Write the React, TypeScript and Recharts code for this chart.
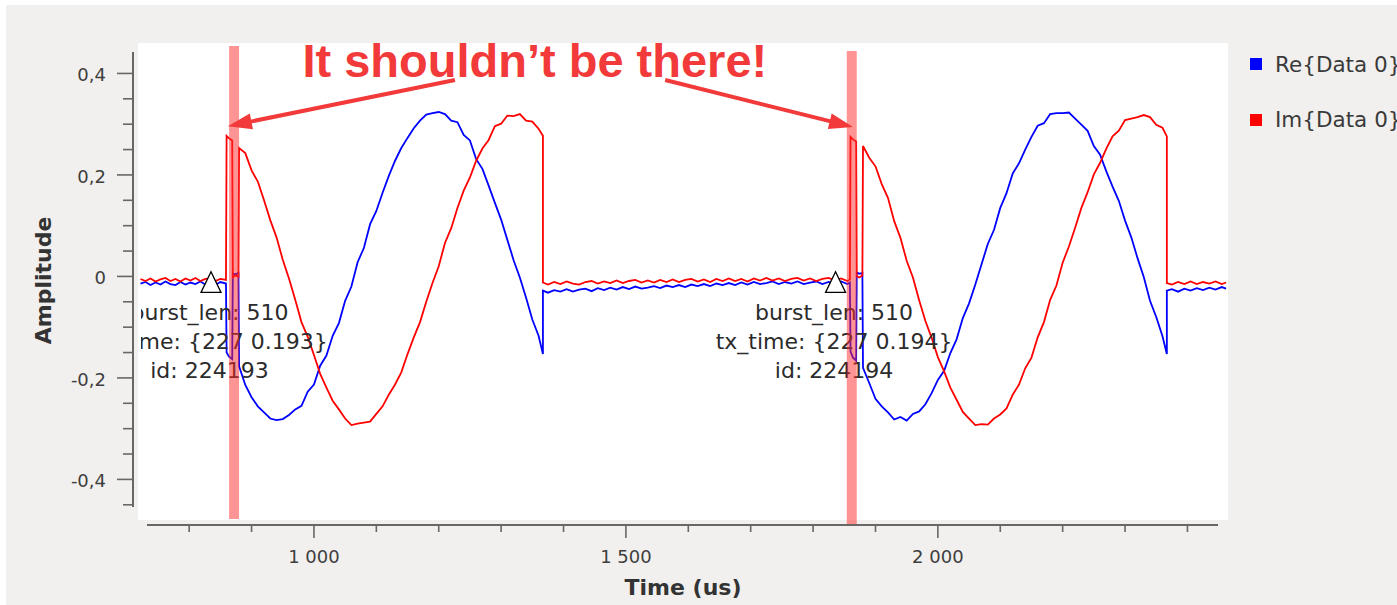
import React from 'react';
import {
  LineChart,
  Line,
  XAxis,
  YAxis,
  CartesianGrid,
  ReferenceArea,
  ReferenceLine,
  ReferenceDot,
} from 'recharts';

// ---------- DATA (time in us, amplitude) ----------
const T_IDLE_A = [722, 730, 738, 746, 754, 762, 770, 778, 786, 794, 802, 810, 818, 826, 834, 842, 850, 859];
const RE_IDLE_A = [-0.014, -0.011, -0.017, -0.012, -0.016, -0.010, -0.015, -0.017, -0.011, -0.016, -0.012, -0.015, -0.010, -0.016, -0.012, -0.017, -0.011, -0.014];
const IM_IDLE_A = [-0.005, -0.009, -0.004, -0.010, -0.006, -0.003, -0.009, -0.005, -0.010, -0.004, -0.008, -0.003, -0.009, -0.005, -0.004, -0.009, -0.005, -0.007];

const T_BURST_1 = [860, 864, 869, 870, 874, 879, 880, 890, 900, 910, 920, 930, 940, 950, 960, 970, 980, 990, 1000, 1010, 1020, 1030, 1040, 1050, 1060, 1070, 1080, 1090, 1100, 1110, 1120, 1130, 1140, 1150, 1160, 1170, 1180, 1190, 1200, 1210, 1220, 1230, 1240, 1250, 1260, 1270, 1280, 1290, 1300, 1310, 1320, 1330, 1340, 1350, 1360, 1367];
const RE_BURST_1 = [-0.150, -0.158, -0.163, 0.006, 0.004, 0.007,
  -0.177, -0.214, -0.238, -0.256, -0.268, -0.280, -0.283, -0.281, -0.273, -0.262,
  -0.255, -0.227, -0.213, -0.176, -0.156, -0.117, -0.092, -0.048, -0.020, 0.028,
  0.056, 0.103, 0.129, 0.165, 0.198, 0.228, 0.253, 0.273, 0.292, 0.307,
  0.319, 0.322, 0.324, 0.320, 0.307, 0.304, 0.279, 0.268, 0.231, 0.212,
  0.179, 0.145, 0.112, 0.072, 0.032, -0.002, -0.042, -0.085, -0.117, -0.153];
const IM_BURST_1 = [0.277, 0.272, 0.268, -0.002, 0.002, -0.001,
  0.253, 0.243, 0.209, 0.187, 0.150, 0.111, 0.077, 0.033, -0.004, -0.046,
  -0.090, -0.119, -0.155, -0.192, -0.219, -0.245, -0.262, -0.280, -0.293, -0.290,
  -0.288, -0.286, -0.271, -0.256, -0.233, -0.213, -0.189, -0.153, -0.120, -0.090,
  -0.050, -0.013, 0.020, 0.066, 0.095, 0.135, 0.169, 0.195, 0.228, 0.252,
  0.269, 0.296, 0.301, 0.317, 0.316, 0.320, 0.307, 0.305, 0.291, 0.277];

const T_IDLE_B = [1367, 1375, 1385, 1395, 1405, 1415, 1425, 1435, 1445, 1455, 1465, 1475, 1485, 1495, 1505, 1515, 1525, 1535, 1545, 1555, 1565, 1575, 1585, 1595, 1605, 1615, 1625, 1635, 1645, 1655, 1665, 1675, 1685, 1695, 1705, 1715, 1725, 1735, 1745, 1755, 1765, 1775, 1785, 1795, 1805, 1815, 1825, 1835, 1845, 1855, 1859];
const RE_IDLE_B = [-0.028, -0.032, -0.027, -0.030, -0.025, -0.030, -0.026, -0.024, -0.029, -0.023,
  -0.027, -0.022, -0.026, -0.021, -0.025, -0.020, -0.024, -0.022, -0.019, -0.023,
  -0.018, -0.021, -0.017, -0.021, -0.016, -0.019, -0.015, -0.019, -0.014, -0.017,
  -0.013, -0.017, -0.012, -0.016, -0.011, -0.015, -0.013, -0.010, -0.015, -0.011,
  -0.014, -0.010, -0.015, -0.012, -0.010, -0.015, -0.011, -0.014, -0.010, -0.015, -0.012];
const IM_IDLE_B = [-0.012, -0.016, -0.011, -0.015, -0.010, -0.014, -0.016, -0.011, -0.009, -0.014,
  -0.010, -0.013, -0.008, -0.013, -0.009, -0.007, -0.012, -0.008, -0.012, -0.007,
  -0.011, -0.006, -0.011, -0.007, -0.005, -0.010, -0.006, -0.011, -0.005, -0.009,
  -0.004, -0.009, -0.005, -0.010, -0.004, -0.008, -0.003, -0.008, -0.004, -0.009,
  -0.005, -0.003, -0.008, -0.004, -0.009, -0.005, -0.003, -0.008, -0.004, -0.009, -0.006];

const T_BURST_2 = [1860, 1864, 1869, 1870, 1874, 1879, 1880, 1890, 1900, 1910, 1920, 1930, 1940, 1950, 1960, 1970, 1980, 1990, 2000, 2010, 2020, 2030, 2040, 2050, 2060, 2070, 2080, 2090, 2100, 2110, 2120, 2130, 2140, 2150, 2160, 2170, 2180, 2190, 2200, 2210, 2220, 2230, 2240, 2250, 2260, 2270, 2280, 2290, 2300, 2310, 2320, 2330, 2340, 2350, 2360, 2367];
const RE_BURST_2 = [-0.148, -0.160, -0.166, 0.008, 0.005, 0.007,
  -0.180, -0.210, -0.241, -0.256, -0.268, -0.282, -0.277, -0.284, -0.271, -0.266,
  -0.252, -0.230, -0.204, -0.186, -0.151, -0.124, -0.082, -0.053, -0.016, 0.024,
  0.064, 0.092, 0.135, 0.164, 0.203, 0.223, 0.250, 0.275, 0.297, 0.302,
  0.320, 0.322, 0.322, 0.323, 0.311, 0.299, 0.287, 0.257, 0.240, 0.207,
  0.177, 0.149, 0.110, 0.077, 0.036, -0.001, -0.048, -0.080, -0.118, -0.153];
const IM_BURST_2 = [0.275, 0.270, 0.266, 0.001, -0.002, 0.002,
  0.257, 0.234, 0.217, 0.182, 0.155, 0.109, 0.076, 0.031, -0.002, -0.047,
  -0.088, -0.121, -0.159, -0.187, -0.219, -0.243, -0.267, -0.280, -0.293, -0.291,
  -0.292, -0.280, -0.272, -0.260, -0.233, -0.213, -0.181, -0.160, -0.120, -0.090,
  -0.046, -0.018, 0.027, 0.059, 0.096, 0.135, 0.166, 0.201, 0.224, 0.252,
  0.276, 0.287, 0.308, 0.311, 0.314, 0.318, 0.314, 0.299, 0.293, 0.276];

const T_IDLE_C = [2367, 2375, 2385, 2395, 2405, 2415, 2425, 2435, 2445, 2455, 2462];
const RE_IDLE_C = [-0.028, -0.025, -0.030, -0.024, -0.028, -0.023, -0.027, -0.022, -0.026, -0.021, -0.024];
const IM_IDLE_C = [-0.013, -0.016, -0.011, -0.015, -0.010, -0.015, -0.011, -0.014, -0.010, -0.015, -0.012];

// axis ticks
const X_TICKS = [800, 900, 1000, 1100, 1200, 1300, 1400, 1500, 1600, 1700, 1800, 1900, 2000, 2100, 2200, 2300, 2400];
const X_MAJOR = [1000, 1500, 2000];
const Y_TICKS = [-0.45, -0.4, -0.35, -0.3, -0.25, -0.2, -0.15, -0.1, -0.05, 0, 0.05, 0.1, 0.15, 0.2, 0.25, 0.3, 0.35, 0.4];
const Y_MAJOR = [-0.4, -0.2, 0, 0.2, 0.4];

const SERIES = [
  { key: 're', name: 'Re{Data 0}', color: '#0000ff' },
  { key: 'im', name: 'Im{Data 0}', color: '#ff0000' },
];

// stream tags
const TAGS = [
  { t: 835, lines: ['burst_len: 510', 'tx_time: {227 0.193}', 'id: 224193'] },
  { t: 1836, lines: ['burst_len: 510', 'tx_time: {227 0.194}', 'id: 224194'] },
];

// annotations (data coordinates)
const HIGHLIGHTS = [
  { x1: 864, x2: 880, y1: -0.478, y2: 0.454 },
  { x1: 1854, x2: 1870, y1: -0.488, y2: 0.444 },
];
const ARROWS = [
  { from: { x: 1226, y: 0.387 }, to: { x: 862, y: 0.296 } },
  { from: { x: 1563, y: 0.387 }, to: { x: 1864, y: 0.2945 } },
];
const NOTE = { x: 1354, y: 0.393, text: 'It shouldn\u2019t be there!' };

// ---------- build table ----------
type Row = { t: number; re: number; im: number };
function zip(times: number[], re: number[], im: number[]): Row[] {
  const n = Math.min(times.length, re.length, im.length);
  const out: Row[] = [];
  for (let i = 0; i < n; i++) out.push({ t: times[i], re: re[i], im: im[i] });
  return out;
}
const DATA: Row[] = [
  ...zip(T_IDLE_A, RE_IDLE_A, IM_IDLE_A),
  ...zip(T_BURST_1, RE_BURST_1, IM_BURST_1),
  ...zip(T_IDLE_B, RE_IDLE_B, IM_IDLE_B),
  ...zip(T_BURST_2, RE_BURST_2, IM_BURST_2),
  ...zip(T_IDLE_C, RE_IDLE_C, IM_IDLE_C),
];

// ---------- layout / styling ----------
const CHART_W = 1397;
const CHART_H = 605;
const MARGIN = { top: 43, right: 169, bottom: 0, left: 0 };
const Y_AXIS_W = 138;
const X_AXIS_H = 85;
const PLOT_LEFT = MARGIN.left + Y_AXIS_W;

const AXIS_COLOR = '#676767';
const TICK_TEXT = '#3e3e3e';
const NOTE_COLOR = '#f23a3a';
const FONT = 'DejaVu Sans';

const fmtX = (v: number) => `${Math.floor(v / 1000)} ${String(v % 1000).padStart(3, '0')}`;
const fmtY = (v: number) => (v === 0 ? '0' : v.toFixed(1).replace('.', ','));

const XTick = (props: any) => {
  const { x, y, payload } = props;
  const v = payload.value as number;
  const major = X_MAJOR.includes(v);
  return (
    <g>
      <line x1={x} x2={x} y1={y + 5} y2={y + 5 + (major ? 13 : 7)} stroke={AXIS_COLOR} strokeWidth={1.6} />
      {major && (
        <text x={x} y={y + 43} textAnchor="middle" fontFamily={FONT} fontSize={18} fill={TICK_TEXT}>
          {fmtX(v)}
        </text>
      )}
    </g>
  );
};

const YTick = (props: any) => {
  const { x, y, payload } = props;
  const v = payload.value as number;
  const major = Y_MAJOR.includes(v);
  return (
    <g>
      <line x1={x - 5 - (major ? 16 : 10)} x2={x - 5} y1={y} y2={y} stroke={AXIS_COLOR} strokeWidth={1.6} />
      {major && (
        <text x={x - 32} y={y + 8} textAnchor="end" fontFamily={FONT} fontSize={18} fill={TICK_TEXT}>
          {fmtY(v)}
        </text>
      )}
    </g>
  );
};

const XAxisDecor = (props: any) => {
  const vb = props.viewBox;
  if (!vb) return null;
  return (
    <g>
      <line x1={vb.x + 9} x2={vb.x + vb.width - 10} y1={vb.y + 5} y2={vb.y + 5} stroke={AXIS_COLOR} strokeWidth={2} />
      <text x={vb.x + vb.width / 2} y={vb.y + 75} textAnchor="middle" fontFamily={FONT} fontWeight="bold" fontSize={22} fill="#333">
        Time (us)
      </text>
    </g>
  );
};

const YAxisDecor = (props: any) => {
  const vb = props.viewBox;
  if (!vb) return null;
  const ax = vb.x + vb.width - 5;
  const cx = vb.x + 51;
  const cy = vb.y + vb.height / 2 - 1;
  return (
    <g>
      <line x1={ax} x2={ax} y1={vb.y + 9} y2={vb.y + vb.height - 13} stroke={AXIS_COLOR} strokeWidth={2} />
      <text x={cx} y={cy} transform={`rotate(-90 ${cx} ${cy})`} textAnchor="middle" fontFamily={FONT} fontWeight="bold" fontSize={22} fill="#333">
        Amplitude
      </text>
    </g>
  );
};

const ArrowShape = (p: any) => {
  const x1 = Number(p.x1), y1 = Number(p.y1), x2 = Number(p.x2), y2 = Number(p.y2);
  const dx = x2 - x1, dy = y2 - y1;
  const len = Math.hypot(dx, dy) || 1;
  const ux = dx / len, uy = dy / len;
  const headLen = 24, headHalf = 8;
  const bx = x2 - ux * headLen, by = y2 - uy * headLen;
  const px = -uy, py = ux;
  return (
    <g>
      <line x1={x1} y1={y1} x2={bx + ux * 2} y2={by + uy * 2} stroke={NOTE_COLOR} strokeWidth={4} />
      <polygon
        points={`${x2},${y2} ${bx + px * headHalf},${by + py * headHalf} ${bx - px * headHalf},${by - py * headHalf}`}
        fill={NOTE_COLOR}
      />
    </g>
  );
};

const NoteShape = (p: any) => (
  <text x={p.cx} y={p.cy} textAnchor="middle" fontFamily="Liberation Sans" fontWeight="bold" fontSize={47} fill={NOTE_COLOR}>
    {NOTE.text}
  </text>
);

const makeTagShape = (lines: string[], idx: number) => (p: any) => {
  const { cx, cy } = p;
  const id = `tag-clip-${idx}`;
  return (
    <g>
      <defs>
        <clipPath id={id}>
          <rect x={PLOT_LEFT + 3} y={0} width={CHART_W} height={CHART_H} />
        </clipPath>
      </defs>
      <g clipPath={`url(#${id})`}>
        <polygon
          points={`${cx},${cy - 4.7} ${cx - 10},${cy + 16} ${cx + 10},${cy + 16}`}
          fill="#ffffff"
          stroke="#000000"
          strokeWidth={1.3}
        />
        {lines.map((s, i) => (
          <text key={i} x={cx - 1.5} y={cy + 44 + i * 29} textAnchor="middle" fontFamily={FONT} fontSize={22} fill="#2b2b2b">
            {s}
          </text>
        ))}
      </g>
    </g>
  );
};

export default function App() {
  return (
    <div style={{ position: 'absolute', left: 0, top: 0, width: CHART_W, height: CHART_H, background: '#ffffff', overflow: 'hidden' }}>
      <div style={{ position: 'absolute', left: 6, top: 5, right: 0, bottom: 0, background: '#f1f0ee' }} />
      <div style={{ position: 'absolute', left: 0, top: 0 }}>
        <LineChart width={CHART_W} height={CHART_H} data={DATA} margin={MARGIN}>
          <CartesianGrid horizontal={false} vertical={false} fill="#ffffff" fillOpacity={1} />
          <XAxis
            dataKey="t"
            type="number"
            domain={[718, 2465]}
            allowDataOverflow
            ticks={X_TICKS}
            interval={0}
            height={X_AXIS_H}
            tickSize={0}
            tickMargin={0}
            axisLine={false}
            tickLine={false}
            tick={XTick}
            label={XAxisDecor}
          />
          <YAxis
            type="number"
            domain={[-0.48, 0.46]}
            allowDataOverflow
            ticks={Y_TICKS}
            interval={0}
            width={Y_AXIS_W}
            tickSize={0}
            tickMargin={0}
            axisLine={false}
            tickLine={false}
            tick={YTick}
            label={YAxisDecor}
          />
          {SERIES.map((s) => (
            <Line
              key={s.key}
              dataKey={s.key}
              name={s.name}
              type="linear"
              stroke={s.color}
              strokeWidth={1.8}
              dot={false}
              activeDot={false}
              isAnimationActive={false}
            />
          ))}
          <ReferenceArea fill="none" stroke="#cbcbcb" strokeWidth={2} ifOverflow="visible" zIndex={900} />
          {TAGS.map((tg, i) => (
            <ReferenceDot key={`tag${i}`} x={tg.t} y={0} r={0} ifOverflow="visible" shape={makeTagShape(tg.lines, i)} zIndex={950} />
          ))}
          {HIGHLIGHTS.map((h, i) => (
            <ReferenceArea
              key={`hl${i}`}
              x1={h.x1}
              x2={h.x2}
              y1={h.y1}
              y2={h.y2}
              fill="#ff2a2a"
              fillOpacity={0.5}
              stroke="none"
              ifOverflow="visible"
              zIndex={1000}
            />
          ))}
          {ARROWS.map((a, i) => (
            <ReferenceLine key={`ar${i}`} segment={[a.from, a.to]} ifOverflow="visible" shape={ArrowShape} zIndex={1100} />
          ))}
          <ReferenceDot x={NOTE.x} y={NOTE.y} r={0} ifOverflow="visible" shape={NoteShape} zIndex={1100} />
        </LineChart>
      </div>
      <div style={{ position: 'absolute', left: 1250, top: 50 }}>
        {SERIES.map((s, i) => (
          <div key={s.key} style={{ display: 'flex', alignItems: 'center', height: 28, marginBottom: i === 0 ? 27.5 : 0 }}>
            <span style={{ display: 'inline-block', width: 12, height: 12, background: s.color, marginRight: 13, flex: 'none' }} />
            <span style={{ fontFamily: FONT, fontSize: 21.5, color: '#3a3a3a', whiteSpace: 'nowrap' }}>{s.name}</span>
          </div>
        ))}
      </div>
    </div>
  );
}
